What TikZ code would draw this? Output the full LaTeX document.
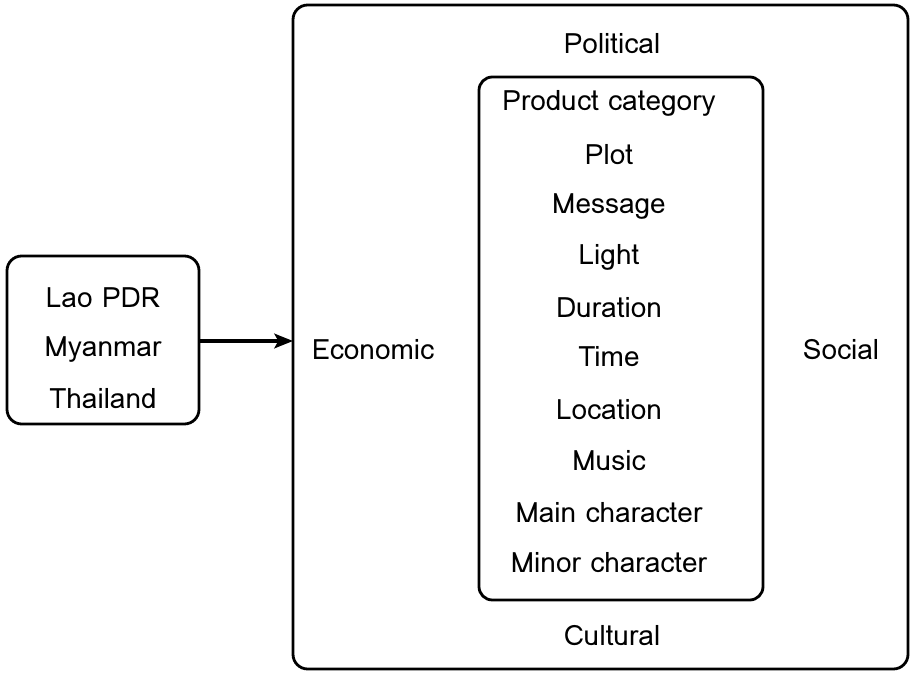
\documentclass[tikz,border=0pt]{standalone}
\usepackage{fontspec}
\setmainfont{Loma}
\usepackage{tikz}
\usetikzlibrary{arrows.meta, fit, positioning}
\tikzset{myroundbox/.style = {draw,line width=2.1pt,rounded corners=#1},
	myroundbox/.default=11pt,
	mytext/.style = {font=\fontsize{21}{24}\selectfont,inner sep=0pt,anchor=center}}

\begin{document}
\begin{tikzpicture}[x=0.75pt,y=-0.75pt]
\useasboundingbox (0,0) rectangle (910,673);
% outer and inner frames
\draw[myroundbox] (293,5) rectangle (908,669);
\draw[myroundbox=10pt] (479,77) rectangle (763,600);
\coordinate (outw) at (293,341);
\node[mytext] (pol) at (612,44) {Political};
\node[mytext] (cul) at (612,636) {Cultural};
\node[mytext] (eco) at (373,350) {Economic};
\node[mytext] (soc) at (841,350) {Social};
% elements
\foreach \lbl/\yy [count=\i] in {Product category/103, Plot/155, Message/207, Light/257,
	Duration/308, Time/357, Location/410, Music/461, Main character/513, Minor character/563}
	\node[mytext] (el-\i) at (609,\yy) {\lbl};
% countries
\draw[myroundbox] (7,256) rectangle (199,424);
\coordinate (cw) at (199,341);
\node[mytext] (lao) at (103,298) {Lao PDR};
\node[mytext] (mya) at (103,350) {Myanmar};
\node[mytext] (tha) at (103,399) {Thailand};
\draw[line width=2.4pt,-{Stealth[length=14pt,width=11pt,inset=3pt]}] (cw) -- (outw);
\end{tikzpicture}
\end{document}
